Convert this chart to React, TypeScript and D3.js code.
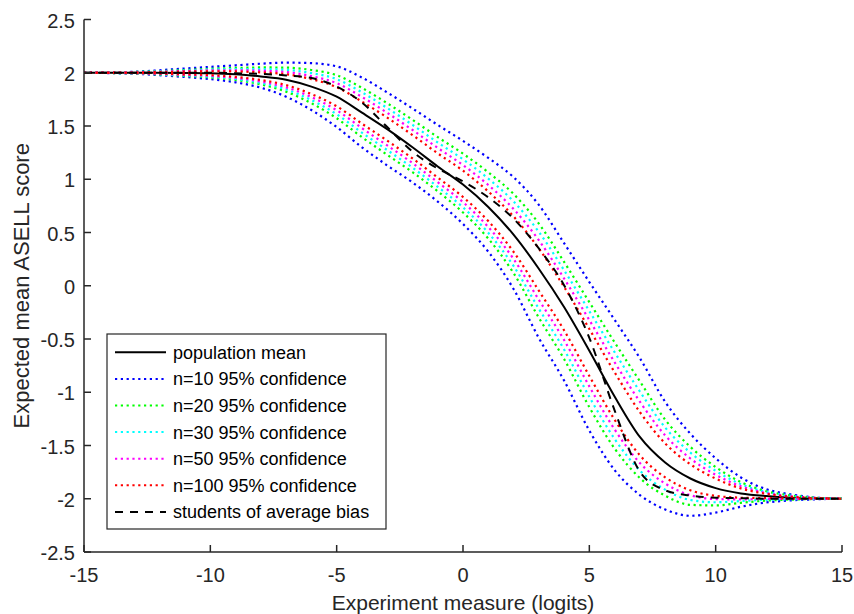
import React from "react";
import * as d3 from "d3";

const xs = [-15, -13, -11, -10, -9, -8, -7, -6, -5, -4, -3, -2, -1, 0, 1, 2, 3, 4, 5, 6, 7, 8, 9, 10, 11, 12, 13, 14, 15];

const meanY = [2.0, 2.0, 1.998, 1.995, 1.985, 1.965, 1.935, 1.87, 1.775, 1.625, 1.47, 1.3, 1.12, 0.95, 0.74, 0.48, 0.16, -0.2, -0.61, -1.04, -1.42, -1.66, -1.81, -1.9, -1.95, -1.975, -1.99, -1.996, -2.0];
const biasY = [2.0, 2.0, 2.0, 2.0, 1.995, 1.99, 1.975, 1.95, 1.87, 1.72, 1.49, 1.26, 1.1, 0.98, 0.83, 0.63, 0.35, 0.005, -0.49, -1.17, -1.745, -1.92, -1.97, -1.99, -1.995, -2.0, -2.0, -2.0, -2.0];

const n10Upper = [2.0, 2.01, 2.04, 2.055, 2.07, 2.085, 2.095, 2.09, 2.06, 1.955, 1.815, 1.665, 1.51, 1.36, 1.2, 1.02, 0.76, 0.4, 0.035, -0.32, -0.68, -1.09, -1.39, -1.62, -1.8, -1.91, -1.96, -1.99, -2.0];
const n10Lower = [2.0, 1.99, 1.96, 1.94, 1.91, 1.86, 1.775, 1.65, 1.49, 1.3, 1.13, 0.97, 0.79, 0.58, 0.32, -0.03, -0.49, -0.89, -1.36, -1.73, -1.965, -2.1, -2.16, -2.13, -2.075, -2.035, -2.015, -2.005, -2.0];
const n20Upper = [2.0, 2.007, 2.026, 2.037, 2.045, 2.05, 2.048, 2.026, 1.977, 1.858, 1.714, 1.558, 1.396, 1.24, 1.065, 0.862, 0.584, 0.224, -0.154, -0.531, -0.897, -1.257, -1.513, -1.702, -1.844, -1.929, -1.969, -1.992, -2.0];
const n20Lower = [2.0, 1.993, 1.97, 1.956, 1.932, 1.891, 1.822, 1.714, 1.573, 1.395, 1.23, 1.067, 0.887, 0.688, 0.443, 0.119, -0.3, -0.688, -1.14, -1.528, -1.805, -1.971, -2.057, -2.063, -2.038, -2.017, -2.008, -2.002, -2.0];
const n30Upper = [2.0, 2.006, 2.021, 2.03, 2.034, 2.034, 2.027, 1.997, 1.94, 1.816, 1.669, 1.511, 1.345, 1.187, 1.006, 0.792, 0.506, 0.146, -0.238, -0.624, -0.993, -1.331, -1.567, -1.738, -1.863, -1.937, -1.973, -1.993, -2.0];
const n30Lower = [2.0, 1.994, 1.975, 1.963, 1.942, 1.904, 1.843, 1.743, 1.61, 1.437, 1.274, 1.109, 0.929, 0.736, 0.497, 0.186, -0.215, -0.598, -1.043, -1.438, -1.735, -1.914, -2.012, -2.033, -2.022, -2.01, -2.004, -2.001, -2.0];
const n50Upper = [2.0, 2.004, 2.016, 2.022, 2.023, 2.019, 2.007, 1.968, 1.902, 1.773, 1.624, 1.463, 1.294, 1.133, 0.946, 0.721, 0.428, 0.068, -0.322, -0.718, -1.089, -1.405, -1.622, -1.775, -1.883, -1.946, -1.977, -1.993, -2.0];
const n50Lower = [2.0, 1.996, 1.98, 1.97, 1.951, 1.918, 1.863, 1.772, 1.648, 1.48, 1.318, 1.152, 0.972, 0.785, 0.552, 0.252, -0.131, -0.509, -0.945, -1.349, -1.664, -1.857, -1.967, -2.003, -2.006, -2.002, -2.001, -2.0, -2.0];
const n100Upper = [2.0, 2.003, 2.011, 2.014, 2.012, 2.003, 1.986, 1.94, 1.865, 1.729, 1.579, 1.415, 1.243, 1.08, 0.885, 0.651, 0.35, -0.01, -0.406, -0.812, -1.186, -1.48, -1.677, -1.811, -1.903, -1.954, -1.981, -1.994, -2.0];
const n100Lower = [2.0, 1.997, 1.985, 1.978, 1.961, 1.932, 1.884, 1.8, 1.685, 1.522, 1.362, 1.196, 1.016, 0.833, 0.607, 0.319, -0.046, -0.418, -0.847, -1.258, -1.592, -1.799, -1.921, -1.973, -1.99, -1.994, -1.998, -1.999, -2.0];

const xTicks = [-15, -10, -5, 0, 5, 10, 15];
const yTicks = [-2.5, -2, -1.5, -1, -0.5, 0, 0.5, 1, 1.5, 2, 2.5];

const legendLabels = [
  "population mean",
  "n=10 95% confidence",
  "n=20 95% confidence",
  "n=30 95% confidence",
  "n=50 95% confidence",
  "n=100 95% confidence",
  "students of average bias",
];

const W = 854;
const H = 614;
const left = 84;
const right = 842;
const top = 19.5;
const bottom = 552;
const FONT = "'Liberation Sans', Arial, Helvetica, sans-serif";
const AX = "#262626";

const DOT = "2.2 3.6";
const DASH = "8 7";

type S = { key: string; ys: number[]; color: string; dash: string | null; w: number };

const confSeries: { up: number[]; lo: number[]; color: string }[] = [
  { up: n10Upper, lo: n10Lower, color: "#0000ff" },
  { up: n20Upper, lo: n20Lower, color: "#00ff00" },
  { up: n30Upper, lo: n30Lower, color: "#00ffff" },
  { up: n50Upper, lo: n50Lower, color: "#ff00ff" },
  { up: n100Upper, lo: n100Lower, color: "#ff0000" },
];

export default function App() {
  const x = d3.scaleLinear().domain([-15, 15]).range([left, right]);
  const y = d3.scaleLinear().domain([-2.5, 2.5]).range([bottom, top]);
  const line = d3
    .line<number>()
    .x((_, i) => x(xs[i]))
    .y((d) => y(d))
    .curve(d3.curveMonotoneX);

  const series: S[] = [{ key: "mean", ys: meanY, color: "#000", dash: null, w: 2 }];
  confSeries.forEach((c, i) => {
    series.push({ key: "u" + i, ys: c.up, color: c.color, dash: DOT, w: 2.2 });
    series.push({ key: "l" + i, ys: c.lo, color: c.color, dash: DOT, w: 2.2 });
  });
  series.push({ key: "bias", ys: biasY, color: "#000", dash: DASH, w: 2 });

  const legendStyles = [
    { color: "#000", dash: null as string | null },
    ...confSeries.map((c) => ({ color: c.color, dash: DOT as string | null })),
    { color: "#000", dash: DASH as string | null },
  ];

  const lgX = 107;
  const lgY = 334;
  const lgW = 279;
  const lgH = 195;
  const rowH = 26.6;
  const row0 = lgY + 18.3;

  return (
    <svg
      width={W}
      height={H}
      style={{ position: "absolute", left: 0, top: 0, background: "#fff" }}
      fontFamily={FONT}
    >
      <rect x={0} y={0} width={W} height={H} fill="#fff" />
      {series.map((s) => (
        <path
          key={s.key}
          d={line(s.ys) || ""}
          fill="none"
          stroke={s.color}
          strokeWidth={s.w}
          strokeDasharray={s.dash || undefined}
        />
      ))}
      {/* axes */}
      <line x1={left} x2={right} y1={bottom} y2={bottom} stroke={AX} strokeWidth={1.5} />
      <line x1={left} x2={left} y1={top} y2={bottom} stroke={AX} strokeWidth={1.5} />
      {xTicks.map((t) => (
        <g key={"xt" + t}>
          <line x1={x(t)} x2={x(t)} y1={bottom} y2={bottom - 7} stroke={AX} strokeWidth={1.5} />
          <text x={x(t)} y={bottom + 30} textAnchor="middle" fontSize={20} fill={AX}>
            {String(t)}
          </text>
        </g>
      ))}
      {yTicks.map((t) => (
        <g key={"yt" + t}>
          <line x1={left} x2={left + 7} y1={y(t)} y2={y(t)} stroke={AX} strokeWidth={1.5} />
          <text x={left - 9} y={y(t) + 8} textAnchor="end" fontSize={20} fill={AX}>
            {String(t)}
          </text>
        </g>
      ))}
      <text x={(left + right) / 2} y={610} textAnchor="middle" fontSize={21} fill={AX}>
        Experiment measure (logits)
      </text>
      <text
        transform={`translate(29, ${(top + bottom) / 2}) rotate(-90)`}
        textAnchor="middle"
        fontSize={22}
        fill={AX}
      >
        Expected mean ASELL score
      </text>
      {/* legend */}
      <rect x={lgX} y={lgY} width={lgW} height={lgH} fill="#fff" stroke={AX} strokeWidth={1.2} />
      {legendLabels.map((lab, i) => {
        const ry = row0 + i * rowH;
        const st = legendStyles[i];
        return (
          <g key={lab}>
            <line
              x1={115}
              x2={166}
              y1={ry}
              y2={ry}
              stroke={st.color}
              strokeWidth={2}
              strokeDasharray={st.dash || undefined}
            />
            <text x={173} y={ry + 6.5} fontSize={18} fill="#000">
              {lab}
            </text>
          </g>
        );
      })}
    </svg>
  );
}
